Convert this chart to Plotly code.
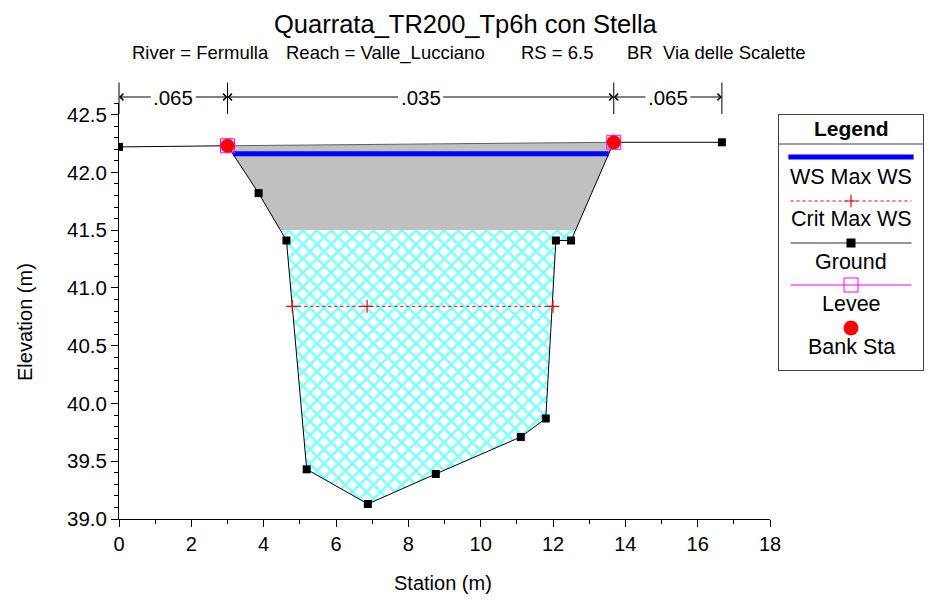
import plotly.graph_objects as go

# ---------------- data ----------------
ground_sta = [0.0, 3.0, 3.86, 4.63, 5.19, 6.88, 8.76, 11.11, 11.80, 12.08, 12.50, 13.68, 16.67]
ground_elev = [42.22, 42.23, 41.82, 41.41, 39.43, 39.13, 39.39, 39.71, 39.87, 41.41, 41.41, 42.26, 42.26]

bank_sta = [3.0, 13.68]
bank_elev = [42.23, 42.26]
levee_sta = [3.0, 13.68]
levee_elev = [42.23, 42.26]

low_chord = 41.5

ws_sta = [3.15, 13.54]
ws_elev = [42.16, 42.16]

crit_sta = [4.79, 6.86, 12.00]
crit_elev = [40.84, 40.84, 40.84]

n_sta = [0.0, 3.0, 13.68, 16.67]
n_vals = [".065", ".035", ".065"]

title = "Quarrata_TR200_Tp6h con Stella"
subtitle_parts = ["River = Fermulla", "Reach = Valle_Lucciano", "RS = 6.5", "BR  Via delle Scalette"]
legend_names = ["WS Max WS", "Crit Max WS", "Ground", "Levee", "Bank Sta"]

# ---------------- geometry helpers ----------------
def crossing(level, i):
    x1, y1, x2, y2 = ground_sta[i], ground_elev[i], ground_sta[i + 1], ground_elev[i + 1]
    return x1 + (level - y1) / (y2 - y1) * (x2 - x1)

segs = [i for i in range(len(ground_sta) - 1)
        if (ground_elev[i] - low_chord) * (ground_elev[i + 1] - low_chord) < 0]
iL, iR = segs[0], segs[-1]
xL, xR = crossing(low_chord, iL), crossing(low_chord, iR)

deck_x = [bank_sta[0], bank_sta[1], xR, xL] + [s for s in ground_sta if bank_sta[0] < s < xL][::-1] + [bank_sta[0]]
deck_y = [bank_elev[0], bank_elev[1], low_chord, low_chord] + \
         [e for s, e in zip(ground_sta, ground_elev) if bank_sta[0] < s < xL][::-1] + [bank_elev[0]]

flow_x = [xL] + [s for s in ground_sta if xL < s < xR] + [xR, xL]
flow_y = [low_chord] + [e for s, e in zip(ground_sta, ground_elev) if xL < s < xR] + [low_chord, low_chord]

# ---------------- layout pixel helpers (screen coords, page has 8px body margin) ----------------
OFF = 8
W, H = 924, 596
ML, MR, MT, MB = 119 - OFF, 5, 103 - OFF, 85
PW, PH = W - ML - MR, H - MT - MB


def px(x):
    return (x - OFF - ML) / PW


def py(y):
    return (H - MB - (y - OFF)) / PH


FONT = "Liberation Sans, Arial, sans-serif"

fig = go.Figure()

fig.add_trace(go.Scatter(x=deck_x, y=deck_y, mode="lines", fill="toself",
                         fillcolor="#c0c0c0", line=dict(width=0), hoverinfo="skip"))
fig.add_trace(go.Scatter(x=flow_x, y=flow_y, mode="lines", fill="toself",
                         fillcolor="white",
                         fillpattern=dict(shape="x", fgcolor="#00ffff", bgcolor="white",
                                          size=10, solidity=0.45),
                         line=dict(width=0), hoverinfo="skip"))
fig.add_trace(go.Scatter(x=bank_sta, y=bank_elev, mode="lines",
                         line=dict(color="#606060", width=1), hoverinfo="skip"))
fig.add_trace(go.Scatter(x=ground_sta, y=ground_elev, mode="lines+markers",
                         line=dict(color="black", width=1),
                         marker=dict(symbol="square", size=8, color="black")))
fig.add_trace(go.Scatter(x=ws_sta, y=ws_elev, mode="lines",
                         line=dict(color="#0000ff", width=5)))
fig.add_trace(go.Scatter(x=crit_sta, y=crit_elev, mode="lines+markers",
                         line=dict(color="red", width=1, dash="dot"),
                         marker=dict(symbol="cross-thin-open", size=9, color="red",
                                     line=dict(color="red", width=1.2))))
fig.add_trace(go.Scatter(x=levee_sta, y=levee_elev, mode="markers",
                         marker=dict(symbol="square-open", size=14, color="#ff00ff",
                                     line=dict(color="#ff00ff", width=1))))
fig.add_trace(go.Scatter(x=bank_sta, y=bank_elev, mode="markers",
                         marker=dict(symbol="circle", size=14, color="red")))

# ---------------- legend box (own axes) ----------------
lx0, lx1 = px(779), px(923)
ly0, ly1 = py(370), py(115)


def lyp(y):
    return (370 - y) / (370 - 115)


sym_y = [lyp(v) for v in (157, 201, 243, 285, 328)]
txt_y = [lyp(v) for v in (177, 219, 262, 304, 347)]

fig.add_trace(go.Scatter(x=[0.065, 0.935], y=[sym_y[0]] * 2, mode="lines",
                         line=dict(color="#0000ff", width=5), xaxis="x2", yaxis="y2"))
fig.add_trace(go.Scatter(x=[0.08, 0.92], y=[sym_y[1]] * 2, mode="lines",
                         line=dict(color="red", width=1, dash="dot"), xaxis="x2", yaxis="y2"))
fig.add_trace(go.Scatter(x=[0.5], y=[sym_y[1]], mode="markers",
                         marker=dict(symbol="cross-thin-open", size=9, color="red",
                                     line=dict(color="red", width=1.2)),
                         xaxis="x2", yaxis="y2"))
fig.add_trace(go.Scatter(x=[0.08, 0.92], y=[sym_y[2]] * 2, mode="lines",
                         line=dict(color="#333333", width=1.2), xaxis="x2", yaxis="y2"))
fig.add_trace(go.Scatter(x=[0.5], y=[sym_y[2]], mode="markers",
                         marker=dict(symbol="square", size=9, color="black"), xaxis="x2", yaxis="y2"))
fig.add_trace(go.Scatter(x=[0.08, 0.92], y=[sym_y[3]] * 2, mode="lines",
                         line=dict(color="#ff00ff", width=1), xaxis="x2", yaxis="y2"))
fig.add_trace(go.Scatter(x=[0.5], y=[sym_y[3]], mode="markers",
                         marker=dict(symbol="square-open", size=14, color="#ff00ff",
                                     line=dict(color="#ff00ff", width=1)),
                         xaxis="x2", yaxis="y2"))
fig.add_trace(go.Scatter(x=[0.5], y=[sym_y[4]], mode="markers",
                         marker=dict(symbol="circle", size=15, color="red"), xaxis="x2", yaxis="y2"))

annotations = []


def ann(text, x, y, xref="paper", yref="paper", size=20, **kw):
    d = dict(text=text, x=x, y=y, xref=xref, yref=yref, showarrow=False,
             xanchor="center", yanchor="middle",
             font=dict(size=size, color="black", family=FONT))
    d.update(kw)
    annotations.append(d)


ann("<b>Legend</b>", 0.5, lyp(128), "x2", "y2", size=21)
for name, ty in zip(legend_names, txt_y):
    ann(name, 0.5, ty, "x2", "y2", size=21.5)

# ---------------- titles ----------------
ann(title, px(466), py(24), size=25.5)
for part, xs in zip(subtitle_parts, (130, 284, 519, 625)):
    ann(part.replace("  ", "&nbsp; "), px(xs), py(53), size=18.5, xanchor="left")
ann("Station (m)", px(443), py(583))
ann("Elevation (m)", px(25), py(322), textangle=-90)

# ---------------- Manning's n bars ----------------
for s in n_sta:
    annotations.append(dict(text="", x=s, y=py(114), xref="x", yref="paper",
                            ax=0, ay=-33, showarrow=True, arrowhead=0, arrowwidth=1,
                            arrowcolor="black"))
for i, n in enumerate(n_vals):
    a, b = n_sta[i], n_sta[i + 1]
    c = 0.5 * (a + b)
    for head, col in ((a, "black"), (b, "rgba(0,0,0,0)")):
        annotations.append(dict(text=n, x=head, y=py(97), xref="x", yref="paper",
                                axref="x", ax=c, ayref="pixel", ay=0,
                                showarrow=True, arrowhead=4, arrowsize=1.3, arrowwidth=1,
                                arrowcolor="black", standoff=0, borderpad=2,
                                font=dict(size=20.5, color=col, family=FONT)))

fig.update_layout(
    width=W, height=H, autosize=False,
    margin=dict(l=ML, r=MR, t=MT, b=MB, pad=0, autoexpand=False),
    paper_bgcolor="white", plot_bgcolor="white",
    showlegend=False,
    font=dict(family=FONT, color="black", size=20),
    annotations=annotations,
    shapes=[dict(type="line", xref="x2", yref="y2", x0=0, x1=1, y0=lyp(144), y1=lyp(144),
                 line=dict(color="#404040", width=1))],
    xaxis=dict(domain=[0, px(770)], range=[0, 18], dtick=2, tick0=0, automargin=False,
               showline=True, linecolor="black", linewidth=1, showgrid=False, zeroline=False,
               ticks="outside", ticklen=7, tickcolor="black", tickfont=dict(size=20),
               minor=dict(dtick=1, ticks="outside", ticklen=4, tickcolor="black", showgrid=False)),
    yaxis=dict(domain=[0, 1], range=[39.0, 42.6], dtick=0.5, tick0=39, tickformat=".1f",
               automargin=False,
               showline=True, linecolor="black", linewidth=1, showgrid=False, zeroline=False,
               ticks="outside", ticklen=7, tickcolor="black", tickfont=dict(size=20.5),
               minor=dict(dtick=0.1, ticks="outside", ticklen=4, tickcolor="black", showgrid=False)),
    xaxis2=dict(domain=[lx0, lx1], range=[0, 1], anchor="y2", showgrid=False, zeroline=False,
                showticklabels=False, ticks="", showline=True, mirror=True, automargin=False,
                linecolor="#404040", linewidth=1, fixedrange=True),
    yaxis2=dict(domain=[ly0, ly1], range=[0, 1], anchor="x2", showgrid=False, zeroline=False,
                showticklabels=False, ticks="", showline=True, mirror=True, automargin=False,
                linecolor="#404040", linewidth=1, fixedrange=True),
)

fig.write_html("out.html")
